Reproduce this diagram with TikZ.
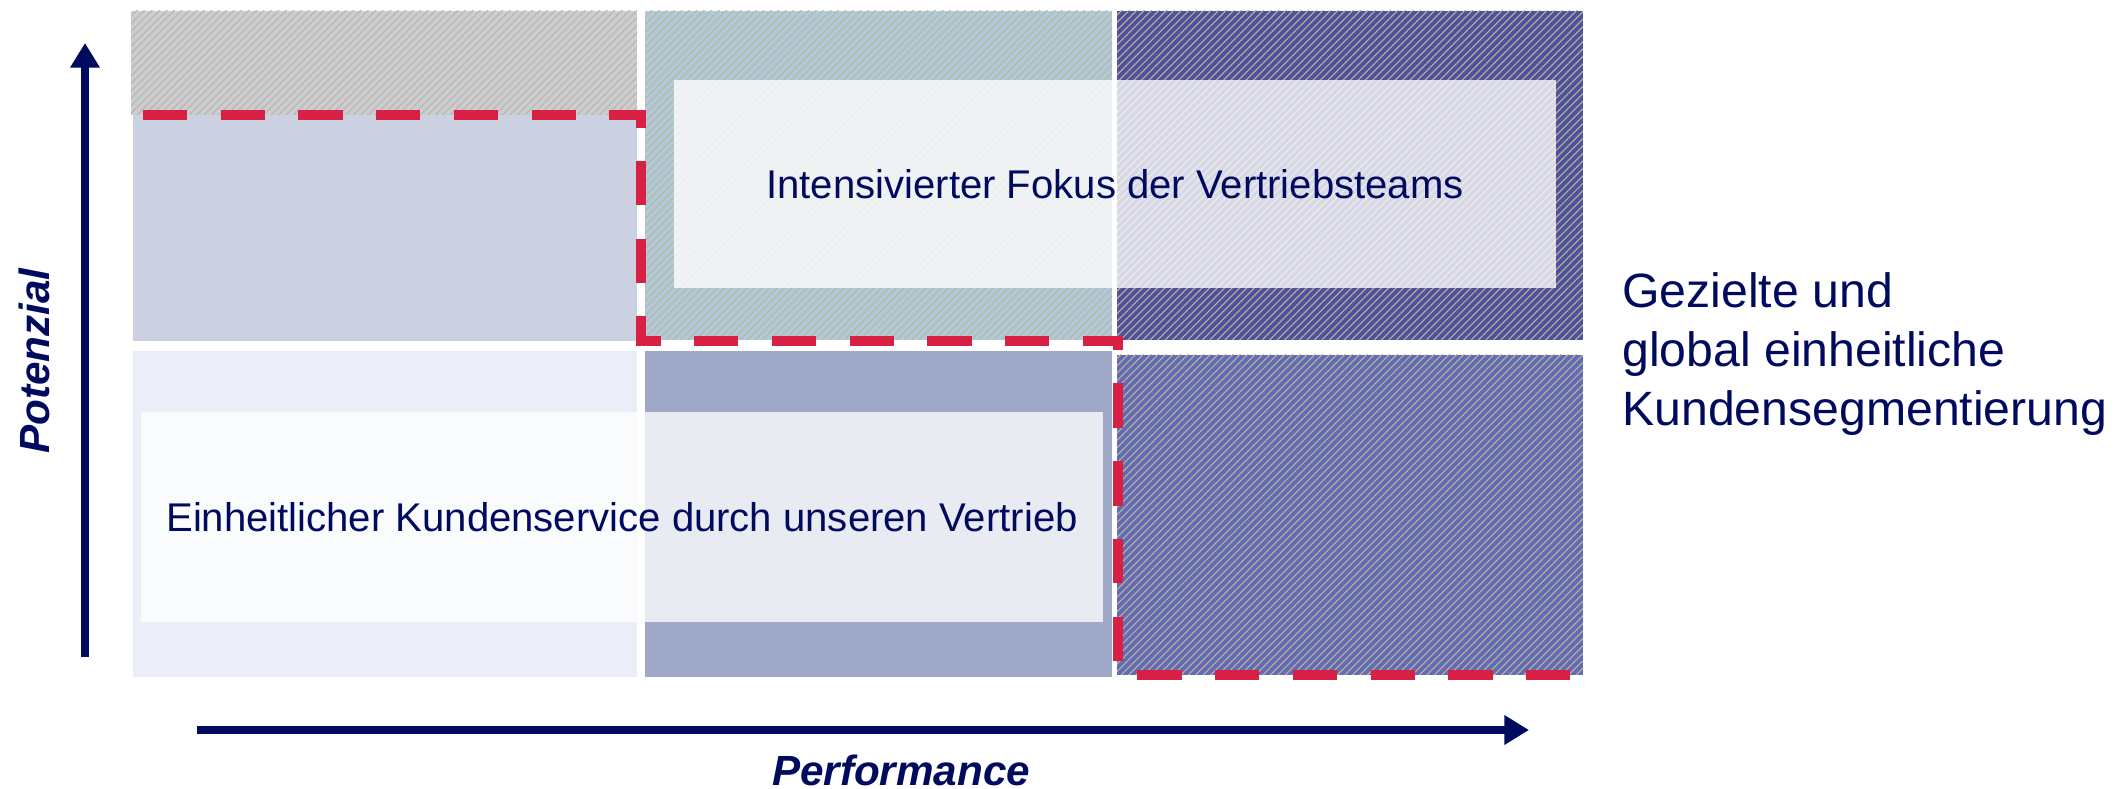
\documentclass[tikz,border=0pt]{standalone}
\usepackage{fontspec}
\setmainfont{Liberation Sans}
\usetikzlibrary{arrows.meta,patterns.meta}

\definecolor{navy}{HTML}{000A5E}
\definecolor{dashred}{HTML}{D81F44}
\definecolor{hatchtan}{HTML}{C4B48E}
\definecolor{greycell}{HTML}{C9CDD9}
\definecolor{paleblue}{HTML}{CBD1E0}
\definecolor{skyblue}{HTML}{AECADF}
\definecolor{darkblue}{HTML}{4C529F}
\definecolor{midblue}{HTML}{606CB8}
\definecolor{lightcell}{HTML}{EBEEF6}
\definecolor{greyblue}{HTML}{9FA8C7}

\begin{document}
\begin{tikzpicture}[x=0.01cm,y=-0.01cm,
  hatch/.style={pattern={Lines[angle=45,distance=1.5pt,line width=0.3pt]},pattern color=hatchtan},
  axis/.style={-{Triangle[width=8pt,length=7pt]},line width=2pt,draw=navy},
  axislabel/.style={font=\fontsize{12}{14}\selectfont\bfseries\itshape,text=navy,inner sep=0pt},
  textbox/.style={fill=white,fill opacity=0.78,text opacity=1,inner sep=0pt,text=navy,
    font=\fontsize{11.4}{13.5}\selectfont},
  reddash/.style={draw=dashred,line width=2.9pt,dash pattern=on 12.6pt off 9.5pt}]

  \useasboundingbox (0,0) rectangle (2116,789);

  % matrix cells
  \fill[greycell] (131,11) rectangle (637,115);
  \fill[hatch] (131,11) rectangle (637,115);
  \fill[paleblue] (133,115) rectangle (637,341);
  \fill[skyblue] (645,11) rectangle (1112,340);
  \fill[hatch] (645,11) rectangle (1112,340);
  \fill[darkblue] (1117,11) rectangle (1583,340);
  \fill[hatch] (1117,11) rectangle (1583,340);
  \fill[lightcell] (133,351) rectangle (637,677);
  \fill[greyblue] (645,351) rectangle (1112,677);
  \fill[midblue] (1117,355) rectangle (1583,675);
  \fill[hatch] (1117,355) rectangle (1583,675);

  % texts
  \node[textbox,minimum width=8.81cm,minimum height=2.07cm] (fokus) at (1115,184)
    {Intensivierter Fokus der Vertriebsteams};
  \node[textbox,minimum width=9.61cm,minimum height=2.10cm] (service) at (622,517)
    {Einheitlicher Kundenservice durch unseren Vertrieb};
  \node[anchor=west,align=left,text=navy,font=\fontsize{13.7}{16.8}\selectfont] (segment) at (1610,354)
    {Gezielte und\\global einheitliche\\Kundensegmentierung};

  % dashed border
  \draw[reddash] (143,115) -- (641,115) -- (641,341) -- (1118,341) -- (1118,675) -- (1583,675);

  % axes
  \coordinate (pbottom) at (85,657);
  \coordinate (ptop) at (85,43);
  \coordinate (pleft) at (197,730);
  \coordinate (pright) at (1529,730);
  \draw[axis] (pbottom) -- (ptop);
  \draw[axis] (pleft) -- (pright);
  \node[axislabel,rotate=90] (potenzial) at (34,361) {Potenzial};
  \node[axislabel] (performance) at (901,770) {Performance};
\end{tikzpicture}
\end{document}
